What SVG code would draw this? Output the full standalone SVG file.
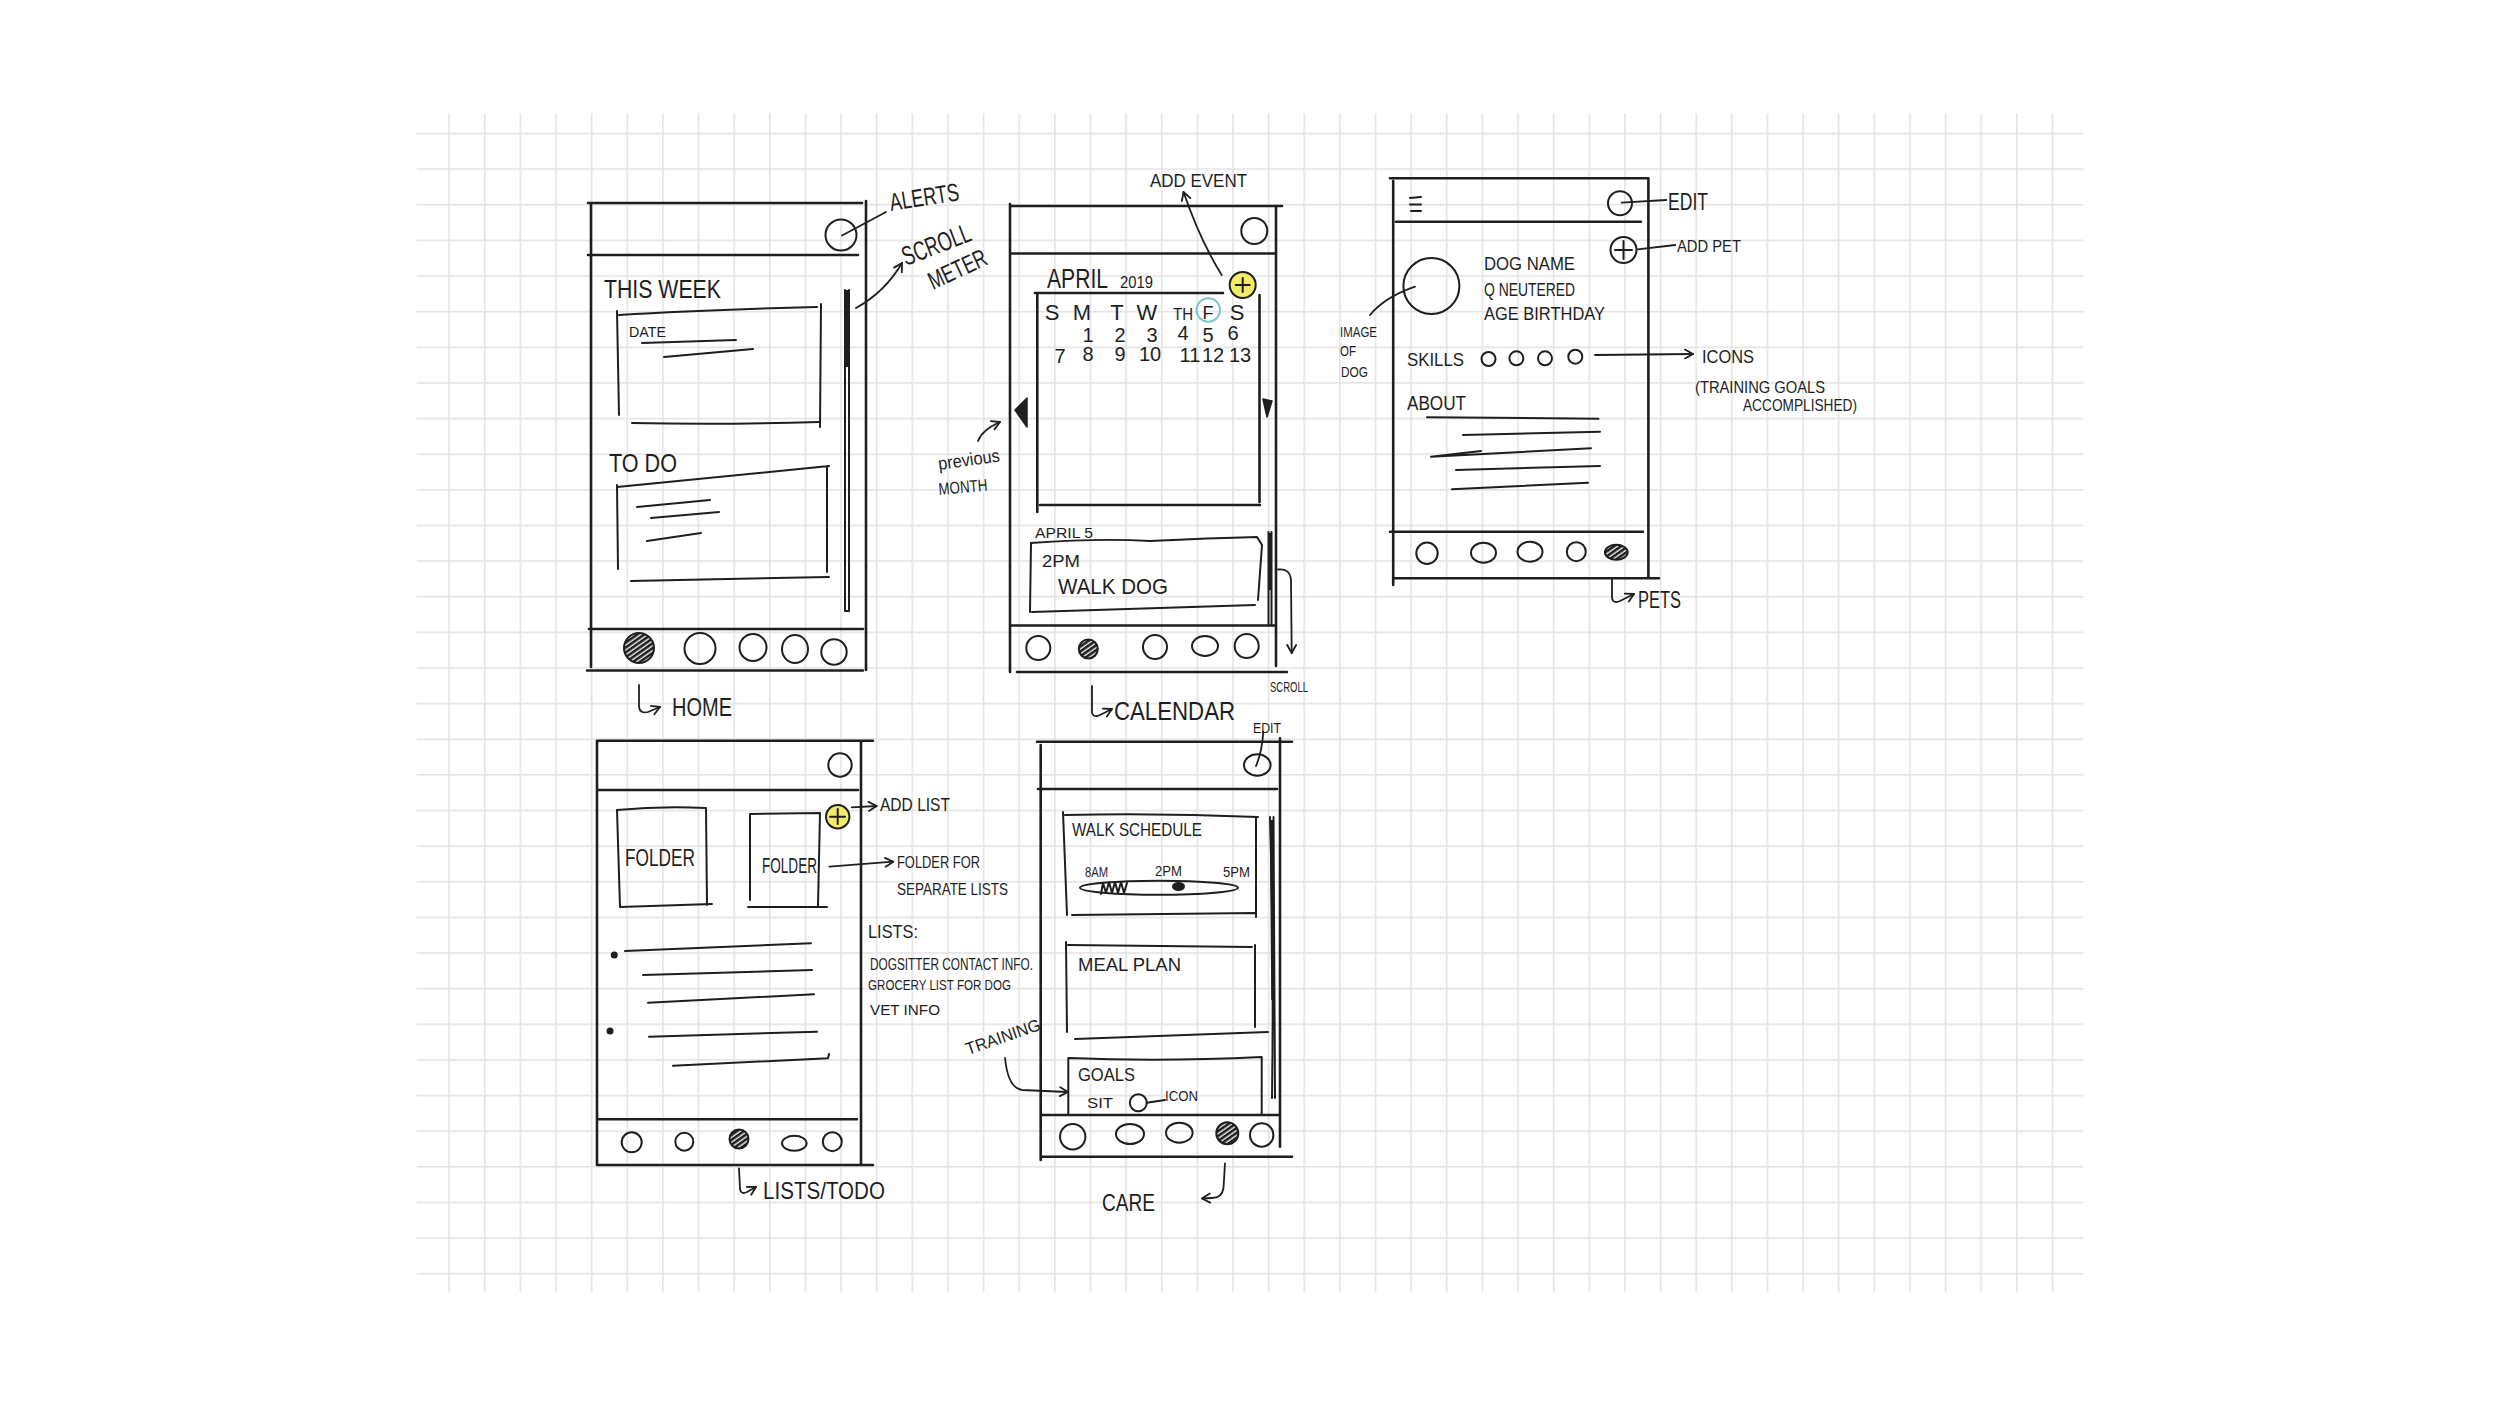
<svg xmlns="http://www.w3.org/2000/svg" width="2500" height="1406" viewBox="0 0 2500 1406">
<defs>
<pattern id="grid" x="448.3" y="132.7" width="35.63" height="35.63" patternUnits="userSpaceOnUse">
<rect x="0" y="0" width="1.6" height="35.63" fill="#e3e3e3"/>
<rect x="0" y="0" width="35.63" height="1.6" fill="#e3e3e3"/>
</pattern>
<pattern id="hatch" width="4" height="4" patternUnits="userSpaceOnUse" patternTransform="rotate(55)">
<rect width="4" height="4" fill="#f2f2f2"/>
<rect width="2.6" height="4" fill="#1e1e1e"/>
</pattern>
<marker id="ah" viewBox="0 0 12 12" refX="10" refY="6" markerWidth="12" markerHeight="12" orient="auto" markerUnits="userSpaceOnUse">
<path d="M2,1.5 L10,6 L2,10.5" fill="none" stroke="#1e1e1e" stroke-width="1.8" stroke-linecap="round" stroke-linejoin="round"/>
</marker>
</defs>
<style>
.s{fill:none;stroke:#1e1e1e;stroke-width:2.6;stroke-linecap:round;stroke-linejoin:round}
.m{fill:none;stroke:#1e1e1e;stroke-width:2;stroke-linecap:round;stroke-linejoin:round}
.c{fill:none;stroke:#1e1e1e;stroke-width:2;stroke-linecap:round}
.h{fill:url(#hatch);stroke:#1e1e1e;stroke-width:2}
.y{fill:#f3ea6a;stroke:#1e1e1e;stroke-width:2}
.t{font-family:"Liberation Sans","DejaVu Sans",sans-serif;fill:#1e1e1e;font-weight:normal}
.a{fill:none;stroke:#1e1e1e;stroke-width:1.8;stroke-linecap:round;stroke-linejoin:round}
</style>
<rect x="0" y="0" width="2500" height="1406" fill="#ffffff"/>
<rect x="416.7" y="113.3" width="1666.6" height="1178.4" fill="url(#grid)"/>

<g id="home">
<path class="s" d="M588,203 L862,203 M591,203 L591,667 M866,201 L866,670 M588,255 L858,255 M589,629 L863,629 M587,670.5 L863,670.5"/>
<circle class="c" cx="841" cy="235" r="15.5"/>
<text class="t" x="604" y="298" font-size="26" textLength="117" lengthAdjust="spacingAndGlyphs">THIS WEEK</text>
<path class="m" d="M617,311 L619,415 M619,315 Q700,310 817,307 M821,304 L820,427 M632,423 Q720,425 819,422"/>
<text class="t" x="629" y="337" font-size="15" textLength="37" lengthAdjust="spacingAndGlyphs">DATE</text>
<path class="m" d="M642,343 L736,340 M664,357 L753,349"/>
<text class="t" x="609" y="472" font-size="25" textLength="68" lengthAdjust="spacingAndGlyphs">TO DO</text>
<path class="m" d="M617,485 L618,569 M617,487 L829,466 M827,466 L827,572 M631,581 L829,577"/>
<path class="m" d="M637,507 L710,500 M651,518 L719,512 M647,541 L701,533"/>
<path class="m" d="M845,290 L845,611 M849,290 L849,611 M845,611 L849,611"/>
<path d="M847,290 L847,367" stroke="#1e1e1e" stroke-width="4" fill="none"/>
<circle class="h" cx="639" cy="648" r="15"/>
<circle class="c" cx="700" cy="648.5" r="15.5"/>
<circle class="c" cx="753" cy="647.5" r="13.5"/>
<ellipse class="c" cx="795" cy="649" rx="13" ry="14"/>
<circle class="c" cx="834" cy="652" r="12.7"/>
<text class="t" x="672" y="716" font-size="25" textLength="60" lengthAdjust="spacingAndGlyphs">HOME</text>
</g>

<g id="home-notes">
<text class="t" font-size="25" textLength="70" lengthAdjust="spacingAndGlyphs" transform="translate(891,211) rotate(-9)">ALERTS</text>
<text class="t" font-size="27" textLength="72" lengthAdjust="spacingAndGlyphs" transform="translate(906,266) rotate(-21)">SCROLL</text>
<text class="t" font-size="25" textLength="62" lengthAdjust="spacingAndGlyphs" transform="translate(933,290) rotate(-25)">METER</text>
</g>

<g id="calendar">
<path class="s" d="M1010,206 L1282,206 M1010,204 L1010,672 M1276,207 L1276,666 M1011,253.5 L1276,253.5 M1010,625.5 L1276,625.5 M1017,672 L1287,672"/>
<circle class="c" cx="1254.3" cy="231" r="13"/>
<text class="t" x="1047" y="288" font-size="27" textLength="61" lengthAdjust="spacingAndGlyphs">APRIL</text>
<text class="t" x="1120" y="288" font-size="16" textLength="33" lengthAdjust="spacingAndGlyphs">2019</text>
<circle class="y" cx="1242.7" cy="285" r="13"/>
<path class="m" d="M1242.7,278 L1242.7,292 M1235.7,285 L1249.7,285"/>
<path class="s" d="M1035,293 L1223,293 M1037.3,293 L1037.3,512 M1259.5,295 L1259.5,502 M1040,505 L1260,505"/>
<g class="t" font-size="22" text-anchor="middle">
<text x="1052" y="320">S</text><text x="1082" y="320">M</text><text x="1117" y="320">T</text><text x="1147" y="320">W</text>
<text x="1183" y="320" font-size="17" textLength="20" lengthAdjust="spacingAndGlyphs">TH</text>
<text x="1208" y="319" font-size="18">F</text><text x="1237" y="320">S</text>
</g>
<circle cx="1208.3" cy="310" r="11.7" fill="none" stroke="#7cc5c8" stroke-width="2"/>
<g class="t" font-size="20" text-anchor="middle">
<text x="1088" y="342">1</text><text x="1120" y="342">2</text><text x="1152" y="342">3</text><text x="1183" y="340">4</text><text x="1208" y="342">5</text><text x="1233" y="340">6</text>
<text x="1060" y="363">7</text><text x="1088" y="361">8</text><text x="1120" y="361">9</text><text x="1150" y="361">10</text><text x="1190" y="362">11</text><text x="1213" y="362">12</text><text x="1240" y="362">13</text>
</g>
<path d="M1015,410 L1027,398 L1027,427 Z" fill="#1e1e1e" stroke="#1e1e1e" stroke-width="1.5" stroke-linejoin="round"/>
<path d="M1263,399 L1272,401 L1267,417 Z" fill="#1e1e1e" stroke="#1e1e1e" stroke-width="1.5" stroke-linejoin="round"/>
<text class="t" x="1035" y="538" font-size="14" textLength="58" lengthAdjust="spacingAndGlyphs">APRIL 5</text>
<path class="m" d="M1031,543 Q1100,538 1150,541 Q1210,538 1257,537 L1262,545 L1258,600 M1032,612 L1255,605 M1031,543 L1030,612"/>
<text class="t" x="1042" y="567" font-size="16" textLength="38" lengthAdjust="spacingAndGlyphs">2PM</text>
<text class="t" x="1058" y="594" font-size="22" textLength="110" lengthAdjust="spacingAndGlyphs">WALK DOG</text>
<path class="m" d="M1268.5,532 L1268.5,625 M1271.5,532 L1271.5,625"/>
<path d="M1270,533 L1270,590" stroke="#1e1e1e" stroke-width="4" fill="none"/>
<circle class="c" cx="1038.3" cy="648" r="12"/>
<circle class="h" cx="1088.3" cy="649" r="9.5"/>
<circle class="c" cx="1155" cy="647" r="12"/>
<ellipse class="c" cx="1205" cy="646" rx="13" ry="10"/>
<circle class="c" cx="1246.7" cy="646" r="12"/>
<text class="t" x="1114" y="720" font-size="26" textLength="121" lengthAdjust="spacingAndGlyphs">CALENDAR</text>
</g>

<g id="calendar-notes">
<text class="t" x="1150" y="187" font-size="18" textLength="97" lengthAdjust="spacingAndGlyphs">ADD EVENT</text>
<text class="t" font-size="18" textLength="62" lengthAdjust="spacingAndGlyphs" transform="translate(939,470) rotate(-8)">previous</text>
<text class="t" font-size="17" textLength="49" lengthAdjust="spacingAndGlyphs" transform="translate(939,495) rotate(-5)">MONTH</text>
<text class="t" x="1270" y="692" font-size="15" textLength="38" lengthAdjust="spacingAndGlyphs">SCROLL</text>
</g>

<g id="pets">
<path class="s" d="M1390,178.3 L1648.4,178.3 M1393.2,181 L1393.2,585 M1648.4,178.3 L1648.4,578 M1396,221.7 L1641,221.7 M1390,531.7 L1643,531.7 M1393,578.3 L1659,578.3"/>
<path class="m" d="M1410,198 L1421,197 M1410,204.5 L1421,204.5 M1411,211 L1421,211"/>
<circle class="c" cx="1620" cy="203.3" r="12"/>
<circle class="c" cx="1623.5" cy="250" r="13"/>
<path class="m" d="M1623.5,241 L1623.5,259 M1615,250 L1632,250"/>
<circle class="c" cx="1431.4" cy="286" r="28"/>
<text class="t" x="1484" y="270" font-size="18" textLength="91" lengthAdjust="spacingAndGlyphs">DOG NAME</text>
<text class="t" x="1484" y="296" font-size="18" textLength="91" lengthAdjust="spacingAndGlyphs">Q NEUTERED</text>
<text class="t" x="1484" y="320" font-size="19" textLength="121" lengthAdjust="spacingAndGlyphs">AGE BIRTHDAY</text>
<text class="t" x="1407" y="366" font-size="18" textLength="57" lengthAdjust="spacingAndGlyphs">SKILLS</text>
<circle class="c" cx="1488.5" cy="359" r="7"/>
<circle class="c" cx="1516.4" cy="358.3" r="7"/>
<circle class="c" cx="1545" cy="358.3" r="7"/>
<circle class="c" cx="1575.3" cy="356.7" r="7"/>
<text class="t" x="1407" y="410" font-size="20" textLength="59" lengthAdjust="spacingAndGlyphs">ABOUT</text>
<path class="m" d="M1427,417.3 L1598.5,418.7 M1463,435 L1600,431.7 M1481,451 L1431,456.7 L1591,448.3 M1456,470 L1600,466 M1452,489.3 L1588,482.7"/>
<circle class="c" cx="1427" cy="553.3" r="10.7"/>
<ellipse class="c" cx="1483.5" cy="552.7" rx="12.5" ry="10"/>
<ellipse class="c" cx="1530" cy="551.7" rx="12.5" ry="10"/>
<circle class="c" cx="1576.3" cy="551.7" r="9.5"/>
<ellipse class="h" cx="1616.3" cy="552.3" rx="11.4" ry="7.5"/>
<text class="t" x="1638" y="608" font-size="24" textLength="43" lengthAdjust="spacingAndGlyphs">PETS</text>
</g>

<g id="pets-notes">
<text class="t" x="1668" y="210" font-size="24" textLength="40" lengthAdjust="spacingAndGlyphs">EDIT</text>
<text class="t" x="1677" y="252" font-size="17" textLength="64" lengthAdjust="spacingAndGlyphs">ADD PET</text>
<text class="t" x="1340" y="337" font-size="15" textLength="37" lengthAdjust="spacingAndGlyphs">IMAGE</text>
<text class="t" x="1340" y="356" font-size="15" textLength="16" lengthAdjust="spacingAndGlyphs">OF</text>
<text class="t" x="1341" y="377" font-size="15" textLength="27" lengthAdjust="spacingAndGlyphs">DOG</text>
<text class="t" x="1702" y="363" font-size="18" textLength="52" lengthAdjust="spacingAndGlyphs">ICONS</text>
<text class="t" x="1695" y="393" font-size="17" textLength="130" lengthAdjust="spacingAndGlyphs">(TRAINING GOALS</text>
<text class="t" x="1743" y="411" font-size="17" textLength="114" lengthAdjust="spacingAndGlyphs">ACCOMPLISHED)</text>
</g>

<g id="lists">
<path class="s" d="M597,740.7 L873,740.7 M597,740.7 L597,1165 M861,740.7 L861,1165 M597,790 L858,790 M597,1119.3 L857,1119.3 M597,1165 L873,1165"/>
<circle class="c" cx="840" cy="765" r="11.7"/>
<circle class="y" cx="837.7" cy="816.7" r="11.7"/>
<path class="m" d="M837.7,809 L837.7,824 M830,816.7 L845,816.7"/>
<path class="m" d="M617,810 Q660,806 706,808 L707,905 M617,810 L620,907 L712,904"/>
<text class="t" x="625" y="866" font-size="24" textLength="70" lengthAdjust="spacingAndGlyphs">FOLDER</text>
<path class="m" d="M750,814 L750,900 M750,814 L820,813 L818,906 M748,907 L827,907"/>
<text class="t" x="762" y="873" font-size="22" textLength="55" lengthAdjust="spacingAndGlyphs">FOLDER</text>
<circle cx="614.3" cy="955" r="3.5" fill="#1e1e1e"/>
<circle cx="610" cy="1031" r="3.5" fill="#1e1e1e"/>
<path class="m" d="M625,951 L811,943.3 M643,975 L812,970 M648,1002.7 L814,994.3 M649,1036.7 L817,1031.7 M673,1065.7 L828,1058.3 L829,1054"/>
<circle class="c" cx="631.7" cy="1142.3" r="10"/>
<circle class="c" cx="684.3" cy="1141.7" r="9"/>
<circle class="h" cx="739" cy="1139" r="9.5"/>
<ellipse class="c" cx="794.3" cy="1143.3" rx="12.3" ry="7.5"/>
<circle class="c" cx="832.3" cy="1141.7" r="9.5"/>
<text class="t" x="763" y="1199" font-size="24" textLength="122" lengthAdjust="spacingAndGlyphs">LISTS/TODO</text>
</g>

<g id="lists-notes">
<text class="t" x="880" y="811" font-size="18" textLength="70" lengthAdjust="spacingAndGlyphs">ADD LIST</text>
<text class="t" x="897" y="868" font-size="17" textLength="83" lengthAdjust="spacingAndGlyphs">FOLDER FOR</text>
<text class="t" x="897" y="895" font-size="17" textLength="111" lengthAdjust="spacingAndGlyphs">SEPARATE LISTS</text>
<text class="t" x="868" y="938" font-size="19" textLength="50" lengthAdjust="spacingAndGlyphs">LISTS:</text>
<text class="t" x="870" y="970" font-size="16" textLength="163" lengthAdjust="spacingAndGlyphs">DOGSITTER CONTACT INFO.</text>
<text class="t" x="868" y="990" font-size="15" textLength="143" lengthAdjust="spacingAndGlyphs">GROCERY LIST FOR DOG</text>
<text class="t" x="870" y="1015" font-size="15" textLength="70" lengthAdjust="spacingAndGlyphs">VET INFO</text>
</g>

<g id="care">
<path class="s" d="M1037,741.7 L1292,741.7 M1040.7,745 L1040.7,1160 M1280,738.3 L1280,1146.7 M1038,789 L1277,789 M1040.7,1115 L1280,1115 M1040.7,1156.7 L1292,1156.7"/>
<ellipse class="c" cx="1257.3" cy="765" rx="13.3" ry="10.7"/>
<path class="m" d="M1063,812 L1067,915 M1065,815 Q1160,813 1258,817 M1256,817 L1256,917 M1072,915 L1255,913"/>
<text class="t" x="1072" y="836" font-size="18" textLength="130" lengthAdjust="spacingAndGlyphs">WALK SCHEDULE</text>
<text class="t" x="1085" y="877" font-size="14" textLength="23" lengthAdjust="spacingAndGlyphs">8AM</text>
<text class="t" x="1155" y="876" font-size="14" textLength="27" lengthAdjust="spacingAndGlyphs">2PM</text>
<text class="t" x="1223" y="877" font-size="14" textLength="27" lengthAdjust="spacingAndGlyphs">5PM</text>
<ellipse class="m" cx="1159" cy="887.7" rx="79" ry="7"/>
<path class="m" d="M1101,894 L1103,883 L1106,893 L1109,882 L1112,893 L1115,882 L1118,893 L1121,882 L1124,893 L1127,883"/>
<ellipse cx="1178.5" cy="886.5" rx="6.5" ry="4.5" fill="#1e1e1e"/>
<path class="m" d="M1270,817 Q1274,950 1272,1098 M1273.5,817 L1275,1098"/>
<path d="M1271.5,820 L1273,1000" stroke="#1e1e1e" stroke-width="3.5" fill="none"/>
<path class="m" d="M1066,942 L1067,1032 M1068,945 Q1160,946 1252,947 M1255,945 L1255,1027 M1075,1039 L1268,1032"/>
<text class="t" x="1078" y="971" font-size="19" textLength="103" lengthAdjust="spacingAndGlyphs">MEAL PLAN</text>
<path class="m" d="M1068.3,1058 L1068.3,1115 M1069,1058 Q1160,1062 1261.7,1057 L1261.7,1115"/>
<text class="t" x="1078" y="1081" font-size="19" textLength="57" lengthAdjust="spacingAndGlyphs">GOALS</text>
<text class="t" x="1087" y="1108" font-size="15" textLength="26" lengthAdjust="spacingAndGlyphs">SIT</text>
<circle class="c" cx="1138.3" cy="1102.7" r="8.5"/>
<path class="m" d="M1146.7,1102.7 L1165,1100"/>
<text class="t" x="1165" y="1101" font-size="15" textLength="33" lengthAdjust="spacingAndGlyphs">ICON</text>
<circle class="c" cx="1072.7" cy="1136.7" r="12.7"/>
<ellipse class="c" cx="1130" cy="1134" rx="14" ry="10"/>
<ellipse class="c" cx="1179.3" cy="1132.7" rx="13.3" ry="10"/>
<circle class="h" cx="1227.3" cy="1133.3" r="11"/>
<circle class="c" cx="1261.7" cy="1135" r="11.7"/>
<text class="t" x="1102" y="1211" font-size="24" textLength="53" lengthAdjust="spacingAndGlyphs">CARE</text>
</g>

<g id="care-notes">
<text class="t" x="1253" y="733" font-size="14" textLength="28" lengthAdjust="spacingAndGlyphs">EDIT</text>
<text class="t" font-size="17" textLength="78" lengthAdjust="spacingAndGlyphs" transform="translate(968,1055) rotate(-19)">TRAINING</text>
</g>

<g id="connectors">
<path class="a" d="M842,235.5 L886,212"/>
<path class="a" d="M856,308 Q885,292 902,263" marker-end="url(#ah)"/>
<path class="a" d="M639,685 L639,707 Q640,714 648,712 L660,707" marker-end="url(#ah)"/>
<path class="a" d="M1221.7,275 Q1200,240 1183.5,192" marker-end="url(#ah)"/>
<path class="a" d="M978,441 Q982,430 1000,422" marker-end="url(#ah)"/>
<path class="a" d="M1278,569.5 Q1290,568 1291,580 L1291.7,653" marker-end="url(#ah)"/>
<path class="a" d="M1092,686 L1092,713 Q1094,718 1100,715 L1112,709" marker-end="url(#ah)"/>
<path class="a" d="M1621.7,202.7 L1666.3,200"/>
<path class="a" d="M1637.7,249.3 L1675.2,245"/>
<path class="a" d="M1415,286.7 Q1385,297 1370,315"/>
<path class="a" d="M1595,355 L1693,354" marker-end="url(#ah)"/>
<path class="a" d="M1612,579.3 L1612,598 Q1613,604 1620,601 L1634,594" marker-end="url(#ah)"/>
<path class="a" d="M851.7,807.3 L876.7,806" marker-end="url(#ah)"/>
<path class="a" d="M829.3,866.7 L893.3,861.7" marker-end="url(#ah)"/>
<path class="a" d="M739,1168.3 L740,1189 Q741,1195 747,1192 L756,1187" marker-end="url(#ah)"/>
<path class="a" d="M1263.3,731.7 Q1262,752 1256,766"/>
<path class="a" d="M1005,1058 Q1008,1088 1022,1090 L1068,1092" marker-end="url(#ah)"/>
<path class="a" d="M1225,1163.3 L1223.5,1188 Q1222,1198 1212,1198 L1202,1198.5" marker-end="url(#ah)"/>
</g>
</svg>
